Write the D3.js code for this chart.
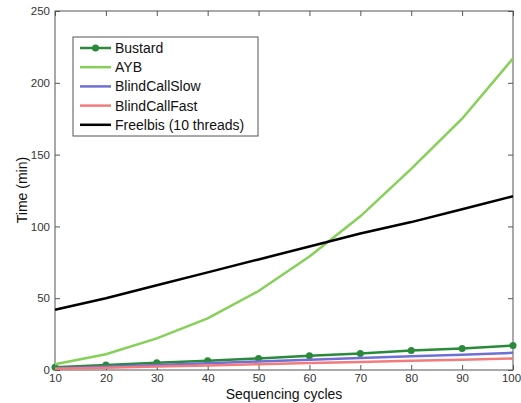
<!DOCTYPE html>
<html><head><meta charset="utf-8">
<script src="https://cdn.jsdelivr.net/npm/d3@7"></script>
<style>body{margin:0;background:#fff}svg{font-family:"Liberation Sans",Arial,sans-serif}</style>
</head><body><svg id="c" width="521" height="403"></svg>
<script>
const cycles = [10,20,30,40,50,60,70,80,90,100];
const bustard = [2,3.5,5,6.5,8,10,11.5,13.5,15,17];
const ayb = [4,11,22,36,55,79,107,140,175,217];
const blindSlow = [1.2,2.3,3.5,4.7,5.9,7.1,8.3,9.5,10.7,12];
const blindFast = [0.8,1.6,2.4,3.2,4,4.8,5.6,6.4,7.2,8];
const freelbis = [42,50,59,68,77,86,95,103,112,121];
const xTicks = [10,20,30,40,50,60,70,80,90,100];
const yTicks = [0,50,100,150,200,250];
const series = [
  {name:"Bustard", values:bustard, color:"#2a8a3a", marker:true},
  {name:"AYB", values:ayb, color:"#86d05a"},
  {name:"BlindCallSlow", values:blindSlow, color:"#6f6fd6"},
  {name:"BlindCallFast", values:blindFast, color:"#f27c7c"},
  {name:"Freelbis (10 threads)", values:freelbis, color:"#000000"}
];
const L=55,R=513,T=11,B=370;
const svg=d3.select("#c");
const x=d3.scaleLinear().domain([10,100]).range([L,R]);
const y=d3.scaleLinear().domain([0,250]).range([B,T]);
const axisColor="#555";
const g=svg.append("g");
g.append("rect").attr("x",L).attr("y",T).attr("width",R-L).attr("height",B-T).attr("fill","none").attr("stroke",axisColor).attr("stroke-width",1);
const ax=(axis,tr)=>{const a=g.append("g").attr("transform",tr).call(axis);a.select(".domain").remove();a.selectAll("line").attr("stroke",axisColor);a.selectAll("text").attr("fill","#333").style("font-size","11.5px");return a;};
const xb=ax(d3.axisBottom(x).tickValues(xTicks).tickSize(-5).tickPadding(4),`translate(0,${B})`);
xb.selectAll("text").filter(d=>d===100).attr("dx",-2);
ax(d3.axisTop(x).tickValues(xTicks).tickSize(-5).tickFormat(""),`translate(0,${T})`);
ax(d3.axisLeft(y).tickValues(yTicks).tickSize(-5).tickPadding(5),`translate(${L},0)`);
ax(d3.axisRight(y).tickValues(yTicks).tickSize(-5).tickFormat(""),`translate(${R},0)`);
const line=d3.line().x((d,i)=>x(cycles[i])).y(d=>y(d));
series.forEach(s=>{
  g.append("path").datum(s.values).attr("d",line).attr("fill","none").attr("stroke",s.color).attr("stroke-width",2.5);
  if(s.marker){g.selectAll(null).data(s.values).enter().append("circle").attr("cx",(d,i)=>x(cycles[i])).attr("cy",d=>y(d)).attr("r",3.5).attr("fill",s.color);}
});
const lg=svg.append("g");
lg.append("rect").attr("x",73).attr("y",37).attr("width",185).attr("height",99).attr("fill","#fff").attr("stroke",axisColor);
series.forEach((s,i)=>{
  const yy=48+i*19.2;
  lg.append("line").attr("x1",80).attr("x2",111).attr("y1",yy).attr("y2",yy).attr("stroke",s.color).attr("stroke-width",2.5);
  if(s.marker) lg.append("circle").attr("cx",95.5).attr("cy",yy).attr("r",3.5).attr("fill",s.color);
  lg.append("text").attr("x",115).attr("y",yy+5).text(s.name).style("font-size","14px").attr("fill","#111");
});
svg.append("text").attr("x",284).attr("y",399).attr("text-anchor","middle").style("font-size","14px").attr("fill","#111").text("Sequencing cycles");
svg.append("text").attr("transform","translate(27,190) rotate(-90)").attr("text-anchor","middle").style("font-size","14px").attr("fill","#111").text("Time (min)");
</script></body></html>
